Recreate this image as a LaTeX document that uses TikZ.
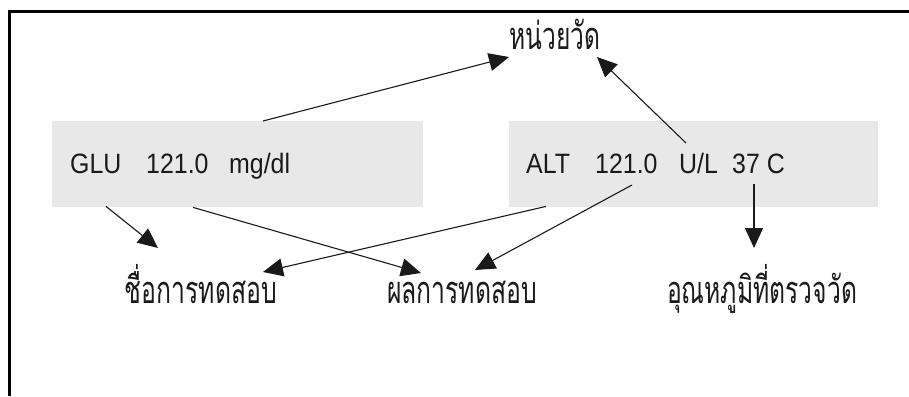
\documentclass[tikz,border=0pt]{standalone}
\usepackage{fontspec}
\newfontfamily\thaifont[Script=Thai]{Loma}
\newfontfamily\latinfont{Liberation Sans}
\usetikzlibrary{arrows.meta}
\definecolor{boxgray}{HTML}{E8E8E8}
\definecolor{inkc}{HTML}{1A1A1A}
\newcommand\latw[1]{\scalebox{0.89}[1]{#1}}
\newcommand\thw[2]{\resizebox{#1}{\height}{#2}}
\begin{document}
\begin{tikzpicture}[x=1pt,y=-1pt,
  graybox/.style={fill=boxgray, draw=none, inner sep=0, anchor=north west},
  word/.style={inner sep=0, anchor=base west, text=inkc, font=\latinfont\fontsize{28}{30}\selectfont},
  thai/.style={inner sep=0, anchor=base, text=inkc, font=\thaifont\fontsize{38}{40}\selectfont},
  conn/.style={line width=1.1pt, draw=inkc, -{Triangle[length=20pt,width=18pt]}}]
\useasboundingbox (0,0) rectangle (909,396);
\fill[white] (0,0) rectangle (909,396);
% frame
\draw[line width=3pt] (9,396) -- (9,12) -- (909,12);
% gray boxes
\node[graybox, minimum width=371pt, minimum height=86pt] (lbox) at (52,121) {};
\node[graybox, minimum width=369pt, minimum height=86pt] (rbox) at (509,121) {};
% box texts
\node[word] (glu) at (70,173) {\latw{GLU}};
\node[word] (gval) at (146,173) {\latw{121.0}};
\node[word] (gunit) at (229,173) {\latw{mg/dl}};
\node[word] (alt) at (526,173) {\latw{ALT}};
\node[word] (aval) at (595,173) {\latw{121.0}};
\node[word] (aunit) at (679,173) {\latw{U/L}};
\node[word] (atemp) at (732,173) {\latw{37 C}};
% labels
\node[thai] (unit) at (555,50) {\thw{91pt}{หน่วยวัด}};
\node[thai] (name) at (201,303) {\thw{152pt}{ชื่อการทดสอบ}};
\node[thai] (result) at (462,303) {\thw{150pt}{ผลการทดสอบ}};
\node[thai] (temp) at (762,303) {\thw{190pt}{อุณหภูมิที่ตรวจวัด}};
% connectors
\draw[conn] ([xshift=211pt]lbox.north west) -- ([xshift=-46pt,yshift=-7pt]unit.base);
\draw[conn] ([xshift=7pt,yshift=30pt]aunit.base west) -- ([xshift=42pt,yshift=-7pt]unit.base);
\draw[conn] ([xshift=54pt,yshift=1pt]lbox.south west) -- ([xshift=-43pt,yshift=55pt]name.base);
\draw[conn] ([xshift=141pt]lbox.south west) -- ([xshift=-41pt,yshift=30pt]result.base);
\draw[conn] ([xshift=37pt,yshift=1pt]rbox.south west) -- ([xshift=62pt,yshift=31pt]name.base);
\draw[conn] ([xshift=37pt,yshift=-12pt]aval.base west) -- ([xshift=13pt,yshift=33pt]result.base);
\draw[conn] ([xshift=22pt,yshift=-11pt]atemp.base west) -- ([xshift=-8pt,yshift=55pt]temp.base);
\end{tikzpicture}
\end{document}
